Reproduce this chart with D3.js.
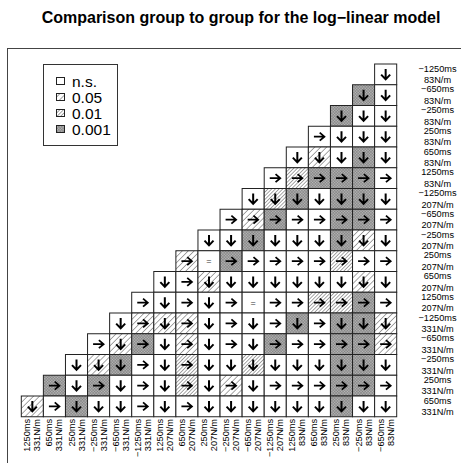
<!DOCTYPE html>
<html>
<head>
<meta charset="utf-8">
<script src="https://cdn.jsdelivr.net/npm/d3@7"></script>
<style>
  body { margin: 0; background: #fff; }
  svg { display: block; font-family: "Liberation Sans", Arial, Helvetica, sans-serif; }
</style>
</head>
<body>
<script>
// Row groups (labels on the right), top to bottom
const rowTimes = ["−1250ms", "−650ms", "−250ms", "250ms", "650ms", "1250ms",
                  "−1250ms", "−650ms", "−250ms", "250ms", "650ms", "1250ms",
                  "−1250ms", "−650ms", "−250ms", "250ms", "650ms"];
const rowStiff = ["83N/m", "83N/m", "83N/m", "83N/m", "83N/m", "83N/m",
                  "207N/m", "207N/m", "207N/m", "207N/m", "207N/m", "207N/m",
                  "331N/m", "331N/m", "331N/m", "331N/m", "331N/m"];

// Column groups (labels at the bottom), left to right
const colTimes = ["1250ms", "650ms", "250ms", "−250ms", "−650ms", "−1250ms",
                  "1250ms", "650ms", "250ms", "−250ms", "−650ms", "−1250ms",
                  "1250ms", "650ms", "250ms", "−250ms", "−650ms"];
const colStiff = ["331N/m", "331N/m", "331N/m", "331N/m", "331N/m", "331N/m",
                  "207N/m", "207N/m", "207N/m", "207N/m", "207N/m", "207N/m",
                  "83N/m", "83N/m", "83N/m", "83N/m", "83N/m"];

// Direction of each comparison, one string per row (cells end at the right edge)
// d = down arrow, r = right arrow, = no difference
const directions = [
  "d",
  "dd",
  "ddd",
  "rddd",
  "ddddd",
  "rrrrrr",
  "ddddddd",
  "rrrrrrrr",
  "ddddddddd",
  "r=rrrrrrrr",
  "drddddddddd",
  "rdrdr=rrrrrr",
  "drdrdrdrdrddd",
  "rdrdrdrdrrrrrr",
  "dddrdrddddddddd",
  "rdrdrdrdrdrrrrrr",
  "drdddrdrddddddddd"
];

// Significance of each comparison: 0 = n.s., 1 = 0.05, 2 = 0.01, 3 = 0.001
const levels = [
  "0",
  "30",
  "300",
  "0000",
  "01030",
  "023330",
  "0230330",
  "01300330",
  "003000310",
  "1030000200",
  "00100000010",
  "000000002230",
  "0111000030331",
  "01301000300331",
  "013002002000330",
  "3030002010000330",
  "10300000000000300"
];

const legendLabels = ["n.s.", "0.05", "0.01", "0.001"];
const title = "Comparison group to group for the log−linear model";

const width = 461, height = 463;
const nCol = colTimes.length, nRow = rowTimes.length;

const svg = d3.select("body").append("svg")
    .attr("width", width)
    .attr("height", height);

// Hatch patterns for the significance levels
const defs = svg.append("defs");
function hatch(id, gap, sw, cross, bg, stroke) {
  const p = defs.append("pattern")
      .attr("id", id)
      .attr("patternUnits", "userSpaceOnUse")
      .attr("width", gap).attr("height", gap)
      .attr("patternTransform", "rotate(45)");
  p.append("rect").attr("width", gap).attr("height", gap).attr("fill", bg);
  p.append("line").attr("x1", 0).attr("y1", 0).attr("x2", 0).attr("y2", gap)
      .attr("stroke", stroke).attr("stroke-width", sw);
  if (cross) {
    p.append("line").attr("x1", 0).attr("y1", 0).attr("x2", gap).attr("y2", 0)
        .attr("stroke", stroke).attr("stroke-width", sw);
  }
}
hatch("p1", 4.2, 0.8, false, "#fff", "#222");
hatch("p2", 2.6, 0.8, false, "#fff", "#222");
hatch("p3", 2.0, 0.7, true, "#bbb", "#555");
const fills = ["#fff", "url(#p1)", "url(#p2)", "url(#p3)"];

// Outer frame (runs off the picture on the right and bottom)
svg.append("rect")
    .attr("x", 7.5).attr("y", 48.5)
    .attr("width", 520).attr("height", 500)
    .attr("fill", "none")
    .attr("stroke", "#444");

// Title
svg.append("text")
    .attr("x", 241).attr("y", 23)
    .attr("text-anchor", "middle")
    .attr("font-weight", "bold")
    .attr("font-size", 16)
    .text(title);

// Scales
const x = d3.scaleBand().domain(d3.range(nCol)).range([21.3, 396.7]);
const y = d3.scaleBand().domain(d3.range(nRow)).range([64, 416.75]);

// Flatten rows into cells
const cells = directions.flatMap((row, r) =>
  row.split("").map((dir, k) => ({
    row: r,
    col: nCol - row.length + k,
    dir: dir,
    level: +levels[r][k]
  }))
);

const cell = svg.append("g")
  .selectAll("g")
  .data(cells)
  .join("g")
    .attr("transform", d => `translate(${x(d.col)},${y(d.row)})`);

cell.append("rect")
    .attr("width", x.bandwidth())
    .attr("height", y.bandwidth())
    .attr("fill", d => fills[d.level])
    .attr("stroke", "#222")
    .attr("stroke-width", 1);

const cx = x.bandwidth() / 2, cy = y.bandwidth() / 2;

cell.filter(d => d.dir === "d").append("path")
    .attr("transform", `translate(${cx},${cy})`)
    .attr("d", "M0,-5.5V5M-4.5,0.3L0,5L4.5,0.3")
    .attr("fill", "none")
    .attr("stroke", "#000")
    .attr("stroke-width", 2);

cell.filter(d => d.dir === "r").append("path")
    .attr("transform", `translate(${cx},${cy})`)
    .attr("d", "M-5.5,0H5M0.3,-4L5,0L0.3,4")
    .attr("fill", "none")
    .attr("stroke", "#000")
    .attr("stroke-width", 1.8);

cell.filter(d => d.dir === "=").append("text")
    .attr("x", cx).attr("y", cy)
    .attr("text-anchor", "middle")
    .attr("dominant-baseline", "central")
    .attr("font-size", 9)
    .attr("fill", "#333")
    .text("=");

// Row labels on the right
const rowLab = svg.append("g")
    .attr("font-size", 9.2)
    .attr("text-anchor", "middle")
  .selectAll("g")
  .data(d3.range(nRow))
  .join("g")
    .attr("transform", r => `translate(437.5,${y(r) + y.bandwidth() / 2})`);
rowLab.append("text").attr("y", -5.7).attr("dominant-baseline", "central").text(r => rowTimes[r]);
rowLab.append("text").attr("y", 5.7).attr("dominant-baseline", "central").text(r => rowStiff[r]);

// Column labels at the bottom, rotated
const colLab = svg.append("g")
    .attr("font-size", 9.2)
    .attr("text-anchor", "end")
  .selectAll("g")
  .data(d3.range(nCol))
  .join("g")
    .attr("transform", c => `translate(${x(c) + x.bandwidth() / 2},419) rotate(-90)`);
colLab.append("text").attr("y", -5).attr("dominant-baseline", "central").text(c => colTimes[c]);
colLab.append("text").attr("y", 5).attr("dominant-baseline", "central").text(c => colStiff[c]);

// Legend
const legend = svg.append("g");
legend.append("rect")
    .attr("x", 43.5).attr("y", 64.5)
    .attr("width", 74).attr("height", 81)
    .attr("fill", "#fff")
    .attr("stroke", "#333");
const item = legend.selectAll("g")
  .data(legendLabels)
  .join("g")
    .attr("transform", (d, i) => `translate(56,${81 + i * 16})`);
item.append("rect")
    .attr("x", 0.5).attr("y", -3.5)
    .attr("width", 8).attr("height", 7)
    .attr("fill", (d, i) => fills[i])
    .attr("stroke", "#222");
item.append("text")
    .attr("x", 16).attr("y", 0)
    .attr("dominant-baseline", "central")
    .attr("font-size", 15.5)
    .text(d => d);
</script>
</body>
</html>
